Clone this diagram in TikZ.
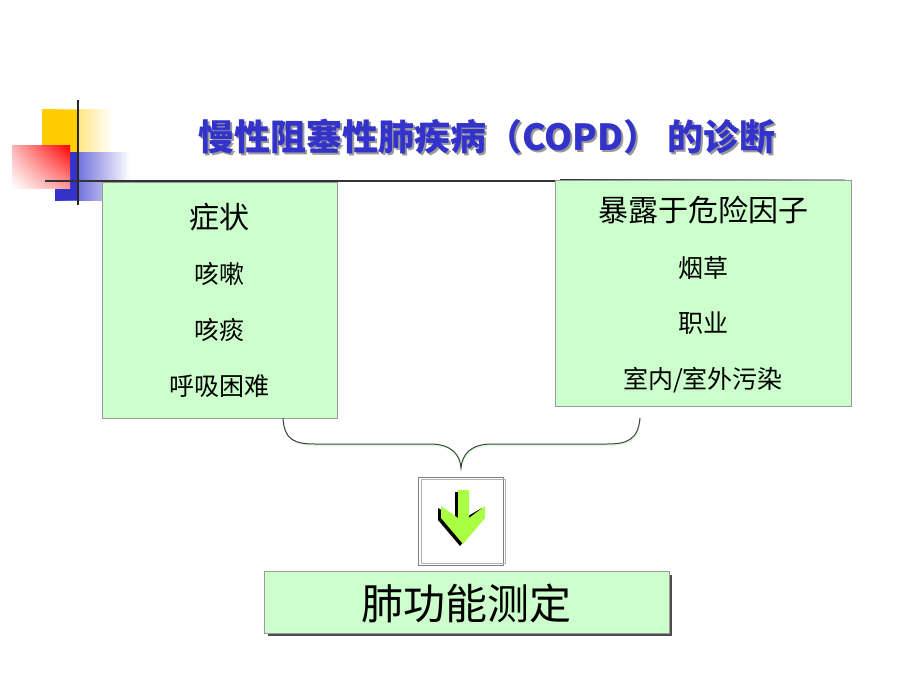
\documentclass[tikz,border=0pt]{standalone}
\usepackage{fontspec}
\usetikzlibrary{shadings}
\newfontfamily\cjk{Noto Sans CJK SC}
\definecolor{lgreen}{HTML}{CCFFCC}
\definecolor{tblue}{HTML}{3333CC}
\definecolor{tyel}{HTML}{FFCC00}
\definecolor{agreen}{HTML}{AAFF44}
\begin{document}
\begin{tikzpicture}[x=1pt,y=-1pt,
  box/.style={draw=gray!80,fill=lgreen,line width=1pt},
  t1/.style={font=\cjk\fontsize{30}{30}\selectfont},
  t2/.style={font=\cjk\fontsize{25}{25}\selectfont}]
\useasboundingbox (0,0) rectangle (920,690);
% decoration
\shade[left color=tyel,right color=white] (42,110) rectangle (112,152);
\fill[tyel] (42,110) rectangle (78,152);
\shade[left color=tblue,right color=white] (55,152) rectangle (130,200);
\fill[tblue] (55,152) rectangle (78,200);
\shade[upper right=red,lower left=white,upper left=red!30,lower right=red!40] (12,145) rectangle (70,188);
\draw[line width=2.5pt,black!85] (78,100) -- (78,205);
\draw[line width=2.5pt,black!80] (45,181) -- (560,181);
\shade[left color=black!80,right color=black!30] (560,179.7) rectangle (845,182.3);
% title
\node[font=\cjk\bfseries\fontsize{36}{36}\selectfont,text=black!40] (tsh) at (489,139) {慢性阻塞性肺疾病（COPD） 的诊断};
\node[font=\cjk\bfseries\fontsize{36}{36}\selectfont,text=tblue] (title) at (487,137) {慢性阻塞性肺疾病（COPD） 的诊断};
% left box
\draw[box] (102,182) rectangle (337,418);
\node[t1] (l0) at (219,217) {症状};
\node[t2] (l1) at (219,274) {咳嗽};
\node[t2] (l2) at (219,330) {咳痰};
\node[t2] (l3) at (219,386) {呼吸困难};
% right box
\draw[box] (555,180) rectangle (851,406);
\node[t1] (r0) at (703,210) {暴露于危险因子};
\node[t2] (r1) at (703,268) {烟草};
\node[t2] (r2) at (703,323) {职业};
\node[t2] (r3) at (703,380) {室内/室外污染};
% brace
\coordinate (bl) at (283,418); \coordinate (bm) at (461,468); \coordinate (br) at (640,418);
\foreach \c/\d in {lgreen/1.2, black!75/0}{
\draw[\c,line width=1pt,shift={(\d,\d)}] (bl) .. controls (284,440) and (295,444) .. (315,444)
  -- (430,444) .. controls (452,444) and (460,455) .. (bm)
  .. controls (462,455) and (470,444) .. (492,444) -- (607,444)
  .. controls (627,444) and (638,440) .. (br);}
% arrow box
\draw[gray,line width=1pt] (418,477) rectangle (503,565);
\draw[gray!60,line width=0.8pt] (421,479) rectangle (505,563);
\fill[black] (455,492) -- (461,492) -- (461,520) -- (482,508) -- (482,520) -- (460,546) -- (438,520) -- (438,508) -- (455,518) -- cycle;
\fill[agreen] (458,490) -- (469,490) -- (469,518) -- (485,506) -- (485,518) -- (463,544) -- (441,518) -- (441,506) -- (458,518) -- cycle;
% bottom box
\fill[black!70] (268,575) rectangle (672,636);
\draw[box] (264,571) rectangle (669,633);
\node[font=\cjk\fontsize{42}{42}\selectfont] (b) at (466,603) {肺功能测定};
\end{tikzpicture}
\end{document}
